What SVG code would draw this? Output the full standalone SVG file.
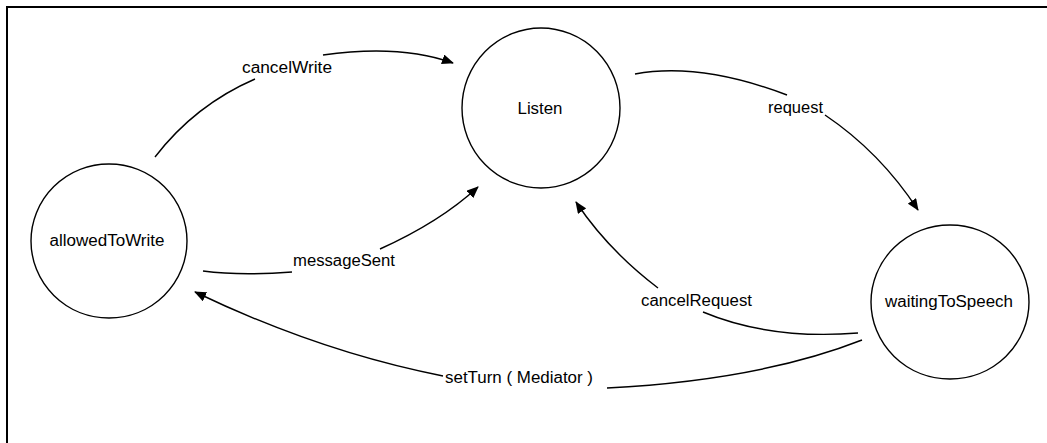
<svg xmlns="http://www.w3.org/2000/svg" width="1047" height="443" viewBox="0 0 1047 443">
<style>
.node{fill:none;stroke:#000;stroke-width:1.4}
.edge{fill:none;stroke:#000;stroke-width:1.4}
text{font-family:"Liberation Sans",Arial,sans-serif;font-size:16px;fill:#000;dominant-baseline:central}
.n{text-anchor:middle}
</style>
<defs>
<marker id="ah" viewBox="0 0 12 10" refX="11" refY="5" markerWidth="12" markerHeight="10" markerUnits="userSpaceOnUse" orient="auto">
<path d="M0,0 L12,5 L0,10 Z" fill="#000"/>
</marker>
</defs>
<rect width="1047" height="443" fill="#fff"/>
<g id="frame">
<line x1="6" y1="7" x2="1047" y2="7" stroke="#000" stroke-width="2"/>
<line x1="7" y1="6" x2="7" y2="443" stroke="#000" stroke-width="2"/>
</g>
<g id="node-listen">
<ellipse class="node" cx="541" cy="108" rx="79" ry="80"/>
<text class="n" x="540" y="108" textLength="45" lengthAdjust="spacingAndGlyphs">Listen</text>
</g>
<g id="node-allowedToWrite">
<ellipse class="node" cx="109" cy="241" rx="78" ry="77"/>
<text class="n" x="107" y="240" textLength="115" lengthAdjust="spacingAndGlyphs">allowedToWrite</text>
</g>
<g id="node-waitingToSpeech">
<ellipse class="node" cx="950" cy="302" rx="79" ry="77"/>
<text class="n" x="949" y="301" textLength="128" lengthAdjust="spacingAndGlyphs">waitingToSpeech</text>
</g>
<g id="connectors">
<path class="edge" d="M155,157 Q195,105 255,79"/>
<path class="edge" d="M323,55 Q400,44 453,63" marker-end="url(#ah)"/>
<text x="242" y="67" textLength="90" lengthAdjust="spacingAndGlyphs">cancelWrite</text>

<path class="edge" d="M203,271 Q240,276 292,272"/>
<path class="edge" d="M380,249 Q440,222 478,187" marker-end="url(#ah)"/>
<text x="293" y="260" textLength="102" lengthAdjust="spacingAndGlyphs">messageSent</text>

<path class="edge" d="M635,74 Q700,62 787,95"/>
<path class="edge" d="M825,115 Q880,152 918,210" marker-end="url(#ah)"/>
<text x="768" y="107" textLength="55" lengthAdjust="spacingAndGlyphs">request</text>

<path class="edge" d="M858,333 Q770,340 703,312"/>
<path class="edge" d="M658,288 Q608,250 576,202" marker-end="url(#ah)"/>
<text x="641" y="300" textLength="111" lengthAdjust="spacingAndGlyphs">cancelRequest</text>

<path class="edge" d="M862,340 Q760,380 607,388"/>
<path class="edge" d="M443,376 Q320,352 195,292" marker-end="url(#ah)"/>
<text x="445" y="377" textLength="148" lengthAdjust="spacingAndGlyphs">setTurn ( Mediator )</text>
</g>
</svg>
